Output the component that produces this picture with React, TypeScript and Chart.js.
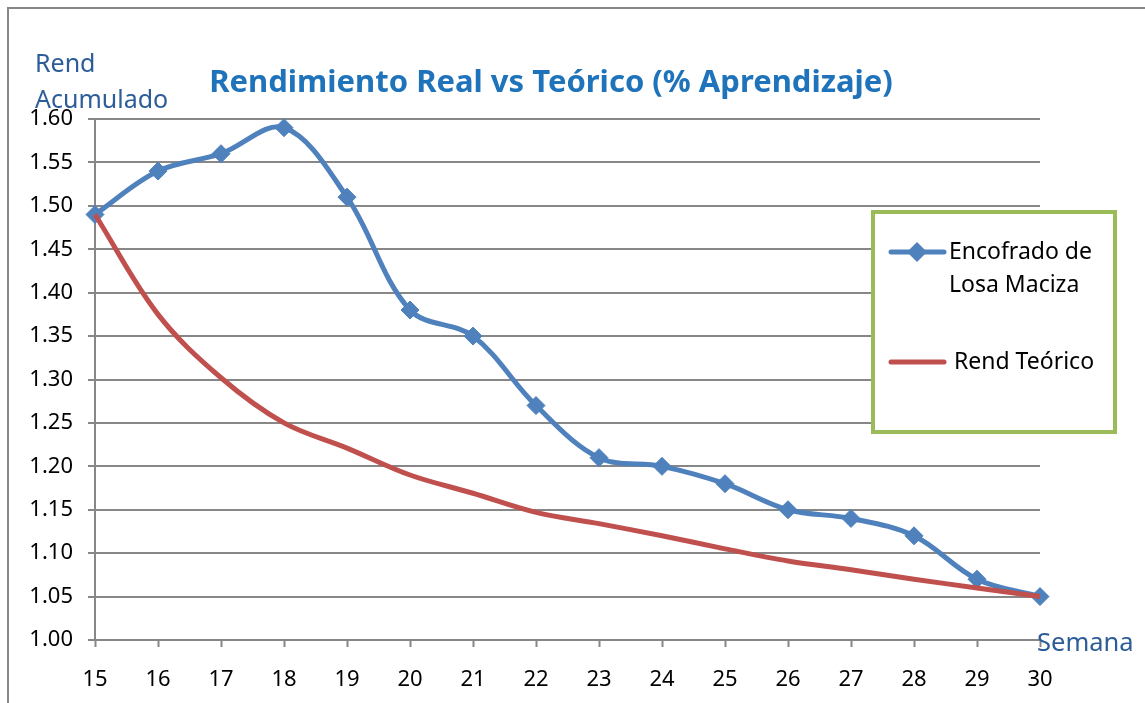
import React, { useEffect, useRef } from "react";
import { Chart, registerables } from "chart.js";

Chart.register(...registerables);

const weeks = [15, 16, 17, 18, 19, 20, 21, 22, 23, 24, 25, 26, 27, 28, 29, 30];
const realValues = [1.49, 1.54, 1.56, 1.59, 1.51, 1.38, 1.35, 1.27, 1.21, 1.2, 1.18, 1.15, 1.14, 1.12, 1.07, 1.05];
const theoreticalValues = [1.49, 1.375, 1.302, 1.25, 1.221, 1.19, 1.169, 1.147, 1.134, 1.12, 1.105, 1.091, 1.081, 1.07, 1.06, 1.05];
const seriesNames = ["Encofrado de Losa Maciza", "Rend Teórico"];
const legendLines = [["Encofrado de", "Losa Maciza"], ["Rend Teórico"]];
const titleText = "Rendimiento Real vs Teórico (% Aprendizaje)";
const yTitleLines = ["Rend", "Acumulado"];
const xTitleText = "Semana";

const FONT = "'Noto Sans', 'Open Sans', sans-serif";
const GRID = "#878787";
const BLUE = "#4F81BD";
const RED = "#C0504D";
const AXIS_TITLE = "#2C5D98";

const decorPlugin = {
  id: "decor",
  beforeDraw(chart: any) {
    const ctx = chart.ctx;
    ctx.save();
    ctx.fillStyle = "#ffffff";
    ctx.fillRect(0, 0, chart.width, chart.height);
    ctx.strokeStyle = GRID;
    ctx.lineWidth = 2;
    ctx.beginPath();
    ctx.moveTo(8, chart.height);
    ctx.lineTo(8, 8);
    ctx.lineTo(chart.width, 8);
    ctx.stroke();
    ctx.restore();
  },
  afterDraw(chart: any) {
    const ctx = chart.ctx;
    const area = chart.chartArea;
    ctx.save();
    // title
    ctx.fillStyle = "#1F73BA";
    ctx.font = `bold 31px ${FONT}`;
    ctx.textAlign = "center";
    ctx.textBaseline = "middle";
    ctx.fillText(titleText, 551, 83);
    // y title
    ctx.fillStyle = AXIS_TITLE;
    ctx.font = `25px ${FONT}`;
    ctx.textAlign = "left";
    ctx.fillText(yTitleLines[0], 35, 65);
    ctx.fillText(yTitleLines[1], 35, 101);
    // x title
    ctx.font = `25.5px ${FONT}`;
    ctx.fillText(xTitleText, area.right - 3, area.bottom + 4);
    // legend
    const bx = 873, by = 212, bw = 242, bh = 220;
    ctx.fillStyle = "#ffffff";
    ctx.fillRect(bx, by, bw, bh);
    ctx.strokeStyle = "#9BBB59";
    ctx.lineWidth = 4;
    ctx.strokeRect(bx, by, bw, bh);
    const ds = chart.data.datasets;
    const rows = [252, 362];
    ds.forEach((d: any, i: number) => {
      const y = rows[i];
      ctx.strokeStyle = d.borderColor;
      ctx.lineWidth = 5;
      ctx.lineCap = "round";
      ctx.beginPath();
      ctx.moveTo(891, y);
      ctx.lineTo(944, y);
      ctx.stroke();
      if (d.pointRadius > 0) {
        ctx.fillStyle = d.borderColor;
        ctx.beginPath();
        ctx.moveTo(917, y - 10);
        ctx.lineTo(927, y);
        ctx.lineTo(917, y + 10);
        ctx.lineTo(907, y);
        ctx.closePath();
        ctx.fill();
      }
      ctx.fillStyle = "#000000";
      ctx.font = `23px ${FONT}`;
      ctx.textAlign = "left";
      ctx.textBaseline = "middle";
      const lines = legendLines[i];
      lines.forEach((t: string, k: number) => {
        ctx.fillText(t, i === 0 ? 949 : 954, y + k * 33);
      });
    });
    ctx.restore();
  },
};

export default function App() {
  const ref = useRef<HTMLCanvasElement | null>(null);
  useEffect(() => {
    if (!ref.current) return;
    const chart = new Chart(ref.current, {
      type: "line",
      data: {
        datasets: [
          {
            label: seriesNames[0],
            data: weeks.map((w, i) => ({ x: w, y: realValues[i] })),
            borderColor: BLUE,
            backgroundColor: BLUE,
            borderWidth: 5,
            pointStyle: "rectRot",
            pointRadius: 9,
            pointBorderWidth: 1,
            pointBackgroundColor: BLUE,
            pointBorderColor: BLUE,
            tension: 0.35,
            clip: false,
            order: 1,
          },
          {
            label: seriesNames[1],
            data: weeks.map((w, i) => ({ x: w, y: theoreticalValues[i] })),
            borderColor: RED,
            backgroundColor: RED,
            borderWidth: 5,
            pointRadius: 0,
            tension: 0.35,
            clip: false,
            order: 0,
          },
        ],
      },
      options: {
        responsive: false,
        animation: false,
        layout: { padding: { left: 0, right: 105, top: 119, bottom: 0 } },
        plugins: {
          legend: { display: false },
          title: { display: false },
          tooltip: { enabled: false },
        },
        scales: {
          x: {
            type: "linear",
            min: 15,
            max: 30,
            afterFit: (s: any) => { s.height = 63; },
            ticks: {
              stepSize: 1,
              color: "#000000",
              font: { family: FONT, size: 22 },
              padding: 20,
              maxRotation: 0,
            },
            grid: { drawOnChartArea: false, tickLength: 7, tickColor: GRID, tickWidth: 2 },
            border: { display: true, color: GRID, width: 2 },
          },
          y: {
            min: 1.0,
            max: 1.6,
            afterFit: (s: any) => { s.width = 95; },
            ticks: {
              stepSize: 0.05,
              color: "#000000",
              font: { family: FONT, size: 22 },
              padding: 15,
              callback: (v: any) => Number(v).toFixed(2),
            },
            grid: { color: GRID, lineWidth: 2, tickLength: 7, tickColor: GRID },
            border: { display: true, color: GRID, width: 2 },
          },
        },
      },
      plugins: [decorPlugin],
    } as any);
    return () => chart.destroy();
  }, []);
  return (
    <div style={{ position: "absolute", left: 0, top: 0, width: 1145, height: 703 }}>
      <canvas ref={ref} width={1145} height={703} style={{ display: "block" }} />
    </div>
  );
}
